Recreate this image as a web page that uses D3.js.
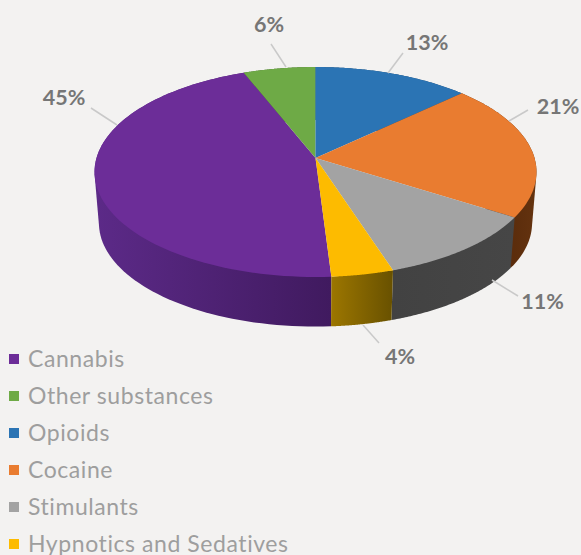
<!DOCTYPE html>
<html>
<head>
<meta charset="utf-8">
<script src="https://cdn.jsdelivr.net/npm/d3@7/dist/d3.min.js"></script>
<style>
  html, body { margin: 0; padding: 0; background: #f3f2f1; }
  svg { display: block; }
  text { font-family: Lato, "Open Sans", sans-serif; }
</style>
</head>
<body>
<svg id="chart" width="581" height="555"></svg>
<script>
// Share of treatment cases by substance, percent
const categories = ["Cannabis", "Other substances", "Opioids", "Cocaine", "Stimulants", "Hypnotics and Sedatives"];
const shares = [45, 6, 13, 21, 11, 4];

const topColors = ["#6c2d98", "#6eaa46", "#2b74b4", "#e97c30", "#a3a3a3", "#fdbb00"];
const wallFrom = ["#5c2a88", "#43682b", "#1c466d", "#64330f", "#464646", "#9c7600"];
const wallTo = ["#401a5f", "#43682b", "#1c466d", "#5c2d0c", "#424242", "#685100"];

// Label anchor and leader line for each slice: [labelX, labelY, x1, y1, x2, y2]
const labelLayout = [
  [64, 105, 91, 108, 117, 125],
  [269, 32, 271, 44, 286, 67],
  [427, 50, 403, 53, 388, 73],
  [558, 114, 528, 110, 509, 121],
  [542.5, 309, 518, 296, 492, 280],
  [400, 364, 379, 343, 363, 325]
];

const svg = d3.select("#chart");

// A tilted disc: the unit circle goes through a perspective division,
// so the centre of the pie sits above the centre of the rim ellipse.
const tilt = 0.1333;
const steps = 90;
const topX = d3.scaleLinear().domain([-1, 1]).range([315.5 - 219, 315.5 + 219]);
const topY = d3.scaleLinear().domain([-1, 1]).range([158 - 103.1, 158 + 103.1]);
const baseX = d3.scaleLinear().domain([-1, 1]).range([315.5 - 214.6, 315.5 + 214.6]);
const baseY = d3.scaleLinear().domain([-1, 1]).range([209.5 - 101.5, 209.5 + 101.5]);

function project(angle, xs, ys) {
  const x = Math.sin(angle), y = -Math.cos(angle), w = 1 - tilt * y;
  return [xs(x / w), ys(y / w)];
}

function rim(a0, a1, xs, ys) {
  return d3.range(steps + 1).map(i => project(a0 + (a1 - a0) * i / steps, xs, ys));
}

const total = d3.sum(shares);
const leadIn = (shares[0] + shares[1]) / total * 2 * Math.PI;
const slices = d3.pie().sort(null).value(d => d)
  .startAngle(-leadIn).endAngle(2 * Math.PI - leadIn)(shares);

const line = d3.line();
const defs = svg.append("defs");

// Side walls first, shaded left to right across each slice's visible run.
// The hull of both rims gives the straight tangent edge at the disc's sides.
const walls = svg.append("g");
slices.forEach((s, i) => {
  const top = rim(s.startAngle, s.endAngle, topX, topY);
  const base = rim(s.startAngle, s.endAngle, baseX, baseY);
  const front = top.filter(p => p[1] > 172).map(p => p[0]);
  const grad = defs.append("linearGradient")
    .attr("id", "wall" + i)
    .attr("gradientUnits", "userSpaceOnUse")
    .attr("x1", d3.min(front) || 0).attr("x2", d3.max(front) || 1)
    .attr("y1", 0).attr("y2", 0);
  const leftToRight = i === 0 || i === 5 ? [wallFrom[i], wallTo[i]] : [wallTo[i], wallFrom[i]];
  grad.append("stop").attr("offset", 0).attr("stop-color", leftToRight[0]);
  grad.append("stop").attr("offset", 1).attr("stop-color", leftToRight[1]);
  walls.append("path")
    .attr("d", line(d3.polygonHull(top.concat(base))) + "Z")
    .attr("fill", `url(#wall${i})`);
});

// Top faces
svg.append("g").selectAll("path").data(slices).join("path")
  .attr("d", s => line([[topX(0), topY(0)]].concat(rim(s.startAngle, s.endAngle, topX, topY))) + "Z")
  .attr("fill", (s, i) => topColors[i]);

// Leader lines and percent labels
svg.append("g").selectAll("line").data(labelLayout).join("line")
  .attr("x1", d => d[2]).attr("y1", d => d[3])
  .attr("x2", d => d[4]).attr("y2", d => d[5])
  .attr("stroke", "#c9c9c9").attr("stroke-width", 1.5);

svg.append("g").selectAll("text").data(shares).join("text")
  .attr("x", (d, i) => labelLayout[i][0])
  .attr("y", (d, i) => labelLayout[i][1])
  .attr("text-anchor", "middle")
  .attr("font-size", 21.5)
  .attr("font-weight", 700)
  .attr("fill", "#767676")
  .text(d => d + "%");

// Legend
const rowY = d3.scalePoint().domain(categories).range([359, 544]);
const legend = svg.append("g").selectAll("g").data(categories).join("g")
  .attr("transform", d => `translate(0,${rowY(d)})`);
legend.append("rect")
  .attr("x", 9).attr("y", -5).attr("width", 10).attr("height", 10)
  .attr("fill", (d, i) => topColors[i]);
legend.append("text")
  .attr("x", 28).attr("y", 8)
  .attr("font-size", 23)
  .attr("letter-spacing", 0.57)
  .attr("fill", "#9e9e9e")
  .text(d => d);
</script>
</body>
</html>
